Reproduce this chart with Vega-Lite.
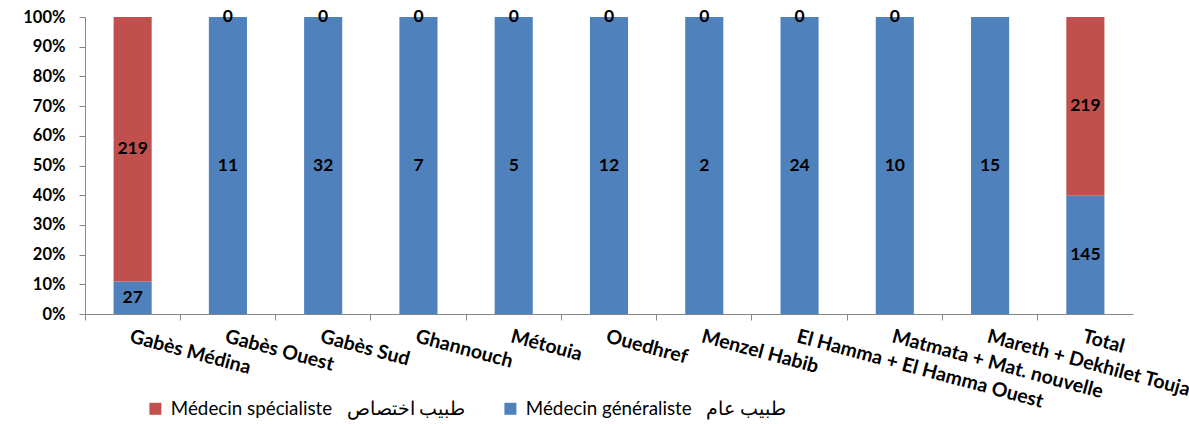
{
  "$schema": "https://vega.github.io/schema/vega-lite/v6.json",
  "width": 1048,
  "height": 297,
  "autosize": {"type": "none"},
  "padding": {"left": 85, "top": 17, "right": 56, "bottom": 110},
  "background": "white",
  "config": {"view": {"stroke": null}, "font": "Lato"},
  "data": {
    "values": [
      {"region": "Gabès Médina", "type": "Médecin généraliste\u00a0\u00a0\u00a0طبيب عام", "value": 27},
      {"region": "Gabès Médina", "type": "Médecin spécialiste\u00a0\u00a0\u00a0طبيب اختصاص", "value": 219},
      {"region": "Gabès Ouest", "type": "Médecin généraliste\u00a0\u00a0\u00a0طبيب عام", "value": 11},
      {"region": "Gabès Ouest", "type": "Médecin spécialiste\u00a0\u00a0\u00a0طبيب اختصاص", "value": 0},
      {"region": "Gabès Sud", "type": "Médecin généraliste\u00a0\u00a0\u00a0طبيب عام", "value": 32},
      {"region": "Gabès Sud", "type": "Médecin spécialiste\u00a0\u00a0\u00a0طبيب اختصاص", "value": 0},
      {"region": "Ghannouch", "type": "Médecin généraliste\u00a0\u00a0\u00a0طبيب عام", "value": 7},
      {"region": "Ghannouch", "type": "Médecin spécialiste\u00a0\u00a0\u00a0طبيب اختصاص", "value": 0},
      {"region": "Métouia", "type": "Médecin généraliste\u00a0\u00a0\u00a0طبيب عام", "value": 5},
      {"region": "Métouia", "type": "Médecin spécialiste\u00a0\u00a0\u00a0طبيب اختصاص", "value": 0},
      {"region": "Ouedhref", "type": "Médecin généraliste\u00a0\u00a0\u00a0طبيب عام", "value": 12},
      {"region": "Ouedhref", "type": "Médecin spécialiste\u00a0\u00a0\u00a0طبيب اختصاص", "value": 0},
      {"region": "Menzel Habib", "type": "Médecin généraliste\u00a0\u00a0\u00a0طبيب عام", "value": 2},
      {"region": "Menzel Habib", "type": "Médecin spécialiste\u00a0\u00a0\u00a0طبيب اختصاص", "value": 0},
      {"region": "El Hamma + El Hamma Ouest", "type": "Médecin généraliste\u00a0\u00a0\u00a0طبيب عام", "value": 24},
      {"region": "El Hamma + El Hamma Ouest", "type": "Médecin spécialiste\u00a0\u00a0\u00a0طبيب اختصاص", "value": 0},
      {"region": "Matmata + Mat. nouvelle", "type": "Médecin généraliste\u00a0\u00a0\u00a0طبيب عام", "value": 10},
      {"region": "Matmata + Mat. nouvelle", "type": "Médecin spécialiste\u00a0\u00a0\u00a0طبيب اختصاص", "value": 0},
      {"region": "Mareth + Dekhilet Toujane", "type": "Médecin généraliste\u00a0\u00a0\u00a0طبيب عام", "value": 15},
      {"region": "Total", "type": "Médecin généraliste\u00a0\u00a0\u00a0طبيب عام", "value": 145},
      {"region": "Total", "type": "Médecin spécialiste\u00a0\u00a0\u00a0طبيب اختصاص", "value": 219}
    ]
  },
  "encoding": {
    "x": {
      "field": "region",
      "type": "nominal",
      "sort": null,
      "scale": {"paddingInner": 0.6, "paddingOuter": 0.3},
      "axis": {
        "title": null,
        "labelAngle": 15,
        "labelAlign": "left",
        "labelBaseline": "top",
        "labelFont": "Lato",
        "labelFontWeight": "bold",
        "labelFontSize": 19.5,
        "labelColor": "black",
        "labelPadding": 7,
        "labelLimit": 400,
        "bandPosition": -0.75,
        "labelOffset": 0,
        "tickSize": 6,
        "tickColor": "#868686",
        "domainColor": "#868686",
        "labelOverlap": false
      }
    },
    "y": {
      "field": "value",
      "type": "quantitative",
      "stack": "normalize",
      "scale": {"domain": [0, 1]},
      "axis": {
        "title": null,
        "format": "%",
        "values": [0, 0.1, 0.2, 0.3, 0.4, 0.5, 0.6, 0.7, 0.8, 0.9, 1],
        "grid": false,
        "labelFont": "Lato",
        "labelFontWeight": "bold",
        "labelFontSize": 16.5,
        "labelColor": "black",
        "labelPadding": 14,
        "tickSize": 6,
        "tickColor": "#868686",
        "domainColor": "#868686"
      }
    },
    "order": {"field": "type", "sort": "ascending"}
  },
  "layer": [
    {
      "mark": {"type": "bar"},
      "encoding": {
        "color": {
          "field": "type",
          "type": "nominal",
          "scale": {
            "domain": ["Médecin spécialiste\u00a0\u00a0\u00a0طبيب اختصاص", "Médecin généraliste\u00a0\u00a0\u00a0طبيب عام"],
            "range": ["#C0504D", "#4F81BD"]
          },
          "legend": {
            "title": null,
            "orient": "none",
            "direction": "horizontal",
            "legendX": 61,
            "legendY": 382,
            "symbolType": "square",
            "symbolSize": 144,
            "symbolStrokeWidth": 0,
            "labelFont": "Lato",
            "labelFontSize": 18.8,
            "labelColor": "black",
            "labelOffset": 6,
            "labelLimit": 500,
            "columnPadding": 35
          }
        }
      }
    },
    {
      "mark": {"type": "text", "font": "Lato", "fontWeight": "bold", "fontSize": 17.5, "color": "black", "baseline": "middle"},
      "encoding": {
        "y": {"field": "value", "type": "quantitative", "stack": "normalize", "bandPosition": 0.5},
        "text": {"field": "value", "type": "quantitative"}
      }
    }
  ]
}
